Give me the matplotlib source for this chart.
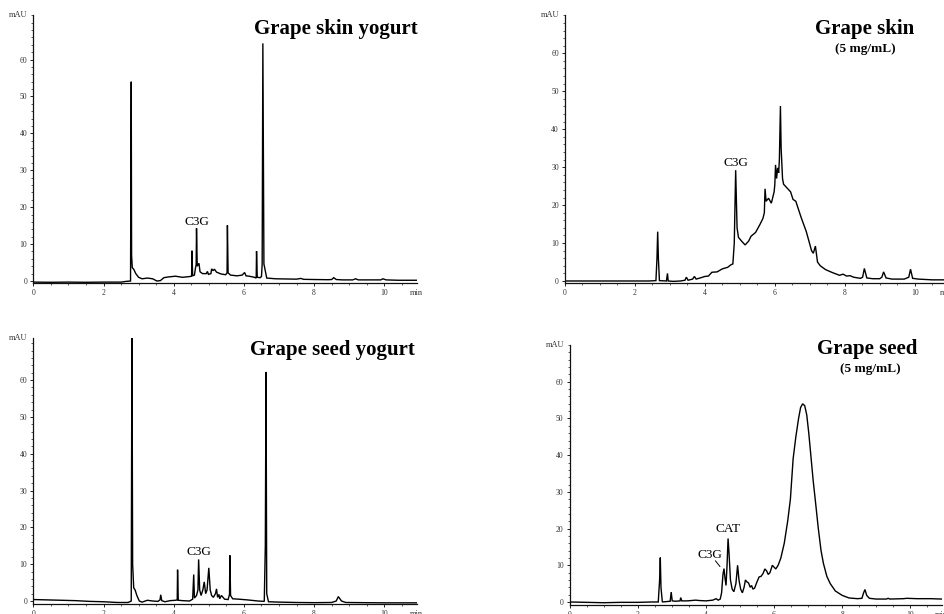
import matplotlib
matplotlib.use("Agg")
import matplotlib.pyplot as plt
from matplotlib.ticker import MultipleLocator

# ---------------- data ----------------
skin_yogurt_time = [
    0.00, 0.50, 1.00, 1.50, 2.00, 2.50, 2.65, 2.77, 2.79, 2.80,
    2.82, 2.86, 2.92, 3.00, 3.10, 3.25, 3.40, 3.52, 3.62, 3.72,
    3.85, 4.05, 4.25, 4.45, 4.51, 4.52, 4.54, 4.59, 4.62, 4.64,
    4.65, 4.67, 4.72, 4.75, 4.82, 4.93, 4.96, 4.99, 5.06, 5.08,
    5.12, 5.16, 5.22, 5.35, 5.48, 5.52, 5.53, 5.55, 5.62, 5.80,
    5.95, 6.02, 6.06, 6.15, 6.30, 6.35, 6.36, 6.38, 6.46, 6.50,
    6.52, 6.54, 6.57, 6.65, 6.90, 7.20, 7.50, 7.62, 7.70, 8.00,
    8.40, 8.50, 8.56, 8.63, 8.80, 9.10, 9.18, 9.26, 9.50, 9.90,
    9.96, 10.05, 10.40, 10.92]
skin_yogurt_mau = [
    -0.30, -0.35, -0.30, -0.35, -0.30, -0.30, -0.10, 0.00, 54.0, 7.0,
    3.6, 3.2, 2.0, 1.0, 0.6, 0.8, 0.6, 0.0, 0.1, 0.9,
    1.1, 1.3, 1.0, 1.2, 1.3, 8.2, 1.4, 1.6, 3.5, 4.5,
    14.3, 4.0, 4.8, 2.5, 2.0, 2.0, 2.6, 1.8, 2.0, 3.3,
    2.8, 3.2, 2.4, 1.9, 1.7, 2.2, 15.1, 2.2, 1.6, 1.4,
    1.6, 2.3, 1.4, 1.3, 1.0, 0.8, 8.1, 1.0, 0.9, 1.2,
    4.5, 64.4, 4.6, 0.8, 0.6, 0.55, 0.5, 0.7, 0.45, 0.4,
    0.35, 0.4, 0.9, 0.4, 0.3, 0.3, 0.6, 0.3, 0.3, 0.3,
    0.6, 0.3, 0.2, 0.2]

skin_time = [
    0.00, 0.60, 1.20, 1.80, 2.40, 2.60, 2.63, 2.65, 2.67, 2.70,
    2.90, 2.93, 2.95, 3.10, 3.30, 3.43, 3.47, 3.52, 3.65, 3.70,
    3.75, 3.90, 4.00, 4.10, 4.20, 4.35, 4.50, 4.65, 4.75, 4.80,
    4.84, 4.88, 4.92, 4.96, 5.05, 5.15, 5.25, 5.32, 5.45, 5.58,
    5.66, 5.70, 5.72, 5.75, 5.82, 5.90, 5.98, 6.00, 6.02, 6.05,
    6.08, 6.11, 6.13, 6.16, 6.18, 6.22, 6.25, 6.35, 6.45, 6.52,
    6.60, 6.75, 6.90, 7.05, 7.10, 7.16, 7.22, 7.30, 7.45, 7.65,
    7.85, 7.95, 8.05, 8.15, 8.25, 8.45, 8.51, 8.56, 8.63, 8.80,
    9.00, 9.06, 9.11, 9.18, 9.35, 9.70, 9.83, 9.88, 9.94, 10.10,
    10.50, 10.92]
skin_mau = [
    0.0, 0.0, 0.0, 0.0, 0.0, 0.1, 6.0, 13.0, 6.0, 0.1,
    0.0, 2.0, 0.0, -0.1, 0.0, 0.2, 1.0, 0.2, 0.5, 1.2,
    0.5, 0.9, 1.2, 1.3, 2.3, 2.4, 3.2, 3.6, 4.3, 4.5,
    10.0, 29.2, 14.0, 11.5, 10.5, 9.5, 10.5, 11.8, 12.8, 15.0,
    16.5, 18.0, 24.3, 21.0, 21.8, 20.5, 23.5, 25.5, 30.6, 27.0,
    29.8, 28.5, 32.0, 46.1, 35.0, 27.0, 25.5, 24.5, 23.5, 21.5,
    21.0, 16.8, 13.0, 8.0, 7.3, 9.2, 5.0, 4.0, 3.0, 2.2,
    1.5, 1.8, 1.3, 1.4, 1.0, 0.7, 1.0, 3.3, 0.8, 0.6,
    0.6, 1.0, 2.4, 0.8, 0.5, 0.5, 1.0, 3.1, 0.7, 0.5,
    0.3, 0.3]

seed_yogurt_time = [
    0.00, 0.40, 0.80, 1.20, 1.60, 2.00, 2.40, 2.70, 2.79, 2.81,
    2.83, 2.86, 2.90, 2.95, 3.02, 3.10, 3.25, 3.40, 3.55, 3.61,
    3.63, 3.66, 3.75, 3.90, 4.05, 4.10, 4.11, 4.13, 4.25, 4.45,
    4.54, 4.57, 4.59, 4.65, 4.69, 4.71, 4.74, 4.78, 4.83, 4.87,
    4.91, 4.95, 5.00, 5.04, 5.08, 5.13, 5.19, 5.22, 5.25, 5.29,
    5.31, 5.36, 5.45, 5.55, 5.59, 5.60, 5.62, 5.68, 5.85, 6.10,
    6.40, 6.58, 6.61, 6.63, 6.65, 6.70, 7.00, 7.50, 8.00, 8.50,
    8.63, 8.69, 8.78, 8.90, 9.40, 10.00, 10.50, 10.92]
seed_yogurt_mau = [
    0.4, 0.3, 0.2, 0.1, -0.1, -0.2, -0.4, -0.4, 0.0, 75.0,
    10.0, 3.6, 3.0, 1.5, 0.0, -0.3, 0.2, 0.0, -0.1, 0.3,
    1.7, 0.1, -0.2, 0.1, 0.2, 0.3, 8.5, 0.2, 0.1, 0.0,
    0.5, 7.2, 0.8, 1.5, 3.0, 11.3, 3.0, 1.5, 3.0, 5.2,
    2.0, 3.0, 9.0, 3.0, 1.5, 1.0, 2.0, 3.3, 1.0, 1.8,
    0.6, 1.5, 0.5, 0.4, 1.8, 12.4, 1.5, 0.6, 0.5, 0.3,
    0.0, -0.1, 15.0, 62.2, 2.0, -0.2, -0.3, -0.4, -0.45, -0.4,
    0.0, 1.2, 0.0, -0.4, -0.45, -0.5, -0.5, -0.5]

seed_time = [
    0.00, 0.50, 1.00, 1.50, 2.00, 2.40, 2.60, 2.64, 2.66, 2.68,
    2.72, 2.95, 2.98, 3.01, 3.10, 3.24, 3.26, 3.29, 3.45, 3.70,
    3.80, 4.00, 4.20, 4.30, 4.36, 4.42, 4.46, 4.50, 4.53, 4.56,
    4.59, 4.62, 4.65, 4.68, 4.72, 4.77, 4.82, 4.88, 4.93, 4.97,
    5.02, 5.07, 5.12, 5.16, 5.20, 5.25, 5.30, 5.34, 5.38, 5.43,
    5.50, 5.56, 5.62, 5.68, 5.73, 5.78, 5.83, 5.88, 5.95, 6.00,
    6.05, 6.12, 6.20, 6.30, 6.40, 6.48, 6.56, 6.64, 6.72, 6.78,
    6.84, 6.90, 6.96, 7.02, 7.08, 7.15, 7.22, 7.30, 7.38, 7.45,
    7.55, 7.65, 7.80, 8.00, 8.20, 8.45, 8.58, 8.63, 8.67, 8.72,
    8.80, 9.00, 9.30, 9.35, 9.40, 9.80, 9.90, 10.20, 10.60, 10.92]
seed_mau = [
    0.0, -0.1, -0.2, -0.1, -0.1, 0.0, 0.0, 6.0, 12.1, 4.0,
    0.0, 0.2, 2.7, 0.3, 0.2, 0.3, 1.2, 0.3, 0.3, 0.5,
    0.4, 0.3, 0.5, 0.9, 0.5, 0.8, 2.5, 7.5, 9.1, 6.5,
    4.5, 10.0, 17.3, 13.0, 6.0, 3.5, 2.8, 5.0, 10.0, 6.0,
    3.5, 2.5, 4.0, 6.0, 5.5, 5.2, 4.0, 4.5, 3.5, 3.8,
    5.5, 6.8, 7.0, 7.8, 9.0, 8.5, 7.5, 8.0, 10.0, 9.5,
    9.0, 10.0, 12.0, 16.0, 22.0, 28.0, 39.0, 45.0, 50.0, 53.0,
    54.0, 53.5, 51.0, 46.0, 40.0, 33.0, 27.0, 20.0, 14.0, 10.5,
    7.0, 5.0, 3.0, 1.8, 1.1, 0.9, 1.0, 2.5, 3.4, 1.8,
    1.0, 0.8, 0.8, 1.0, 0.8, 0.9, 1.0, 0.9, 0.9, 0.8]

x_major_ticks = [0, 2, 4, 6, 8, 10]
y_major_ticks = [0, 10, 20, 30, 40, 50, 60]

SERIF = ["Liberation Serif", "DejaVu Serif"]

fig = plt.figure(figsize=(9.44, 6.14), dpi=100)

panels = [
    # rect, ylim, time, values
    ([0.03528, 0.53958, 0.40604, 0.43550], (-0.46, 72.0), skin_yogurt_time, skin_yogurt_mau),
    ([0.59852, 0.53958, 0.40455, 0.43542], (-0.45, 70.0), skin_time, skin_mau),
    ([0.03528, 0.01678, 0.40604, 0.43322], (-0.73, 71.5), seed_yogurt_time, seed_yogurt_mau),
    ([0.60350, 0.01515, 0.39396, 0.42280], (-0.74, 70.0), seed_time, seed_mau),
]

axes = []
for rect, ylim, t, v in panels:
    ax = fig.add_axes(rect)
    ax.plot(t, v, color="black", lw=1.0, solid_joinstyle="miter")
    ax.set_xlim(0, 10.92)
    ax.set_ylim(*ylim)
    ax.spines["top"].set_visible(False)
    ax.spines["right"].set_visible(False)
    for s in ("left", "bottom"):
        ax.spines[s].set_linewidth(0.9)
        ax.spines[s].set_color("#111111")
    ax.set_xticks(x_major_ticks)
    ax.set_yticks(y_major_ticks)
    ax.xaxis.set_minor_locator(MultipleLocator(0.5))
    ax.yaxis.set_minor_locator(MultipleLocator(2))
    ax.tick_params(which="major", length=2.5, width=0.7, pad=2,
                   labelsize=5.5, labelcolor="#333333", color="#222222")
    ax.tick_params(which="minor", length=1.2, width=0.6, color="#444444")
    for lab in ax.get_xticklabels() + ax.get_yticklabels():
        lab.set_family(SERIF)
    ax.patch.set_alpha(0)
    ax.annotate("mAU", xy=(0, 1), xycoords="axes fraction", xytext=(-4, 0),
                textcoords="offset points", ha="right", va="center",
                fontsize=6, family=SERIF, color="#333333")
    ax.annotate("min", xy=(1, 0), xycoords="axes fraction", xytext=(0, -4.5),
                textcoords="offset points", ha="center", va="top",
                fontsize=6, family=SERIF, color="#333333")
    axes.append(ax)

ax1, ax2, ax3, ax4 = axes

# titles
ax1.text(8.62, 68.3, "Grape skin yogurt", ha="center", va="center",
         fontsize=15, fontweight="bold", family=SERIF)
ax2.text(8.57, 66.4, "Grape skin", ha="center", va="center",
         fontsize=15, fontweight="bold", family=SERIF)
ax2.text(8.60, 61.1, "(5 mg/mL)", ha="center", va="center",
         fontsize=9.5, fontweight="bold", family=SERIF)
ax3.text(8.51, 68.2, "Grape seed yogurt", ha="center", va="center",
         fontsize=15, fontweight="bold", family=SERIF)
ax4.text(8.74, 69.0, "Grape seed", ha="center", va="center",
         fontsize=15, fontweight="bold", family=SERIF)
ax4.text(8.83, 63.6, "(5 mg/mL)", ha="center", va="center",
         fontsize=9.5, fontweight="bold", family=SERIF)

# peak labels
ax1.text(4.66, 16.0, "C3G", ha="center", va="center", fontsize=9.5, family=SERIF)
ax2.text(4.90, 31.2, "C3G", ha="center", va="center", fontsize=9.5, family=SERIF)
ax3.text(4.72, 13.3, "C3G", ha="center", va="center", fontsize=9.5, family=SERIF)
ax4.text(4.64, 20.0, "CAT", ha="center", va="center", fontsize=9.5, family=SERIF)
ax4.text(4.12, 12.9, "C3G", ha="center", va="center", fontsize=9.5, family=SERIF)
ax4.plot([4.28, 4.41], [11.2, 9.7], color="black", lw=0.7)

fig.savefig("out.png", dpi=100)
